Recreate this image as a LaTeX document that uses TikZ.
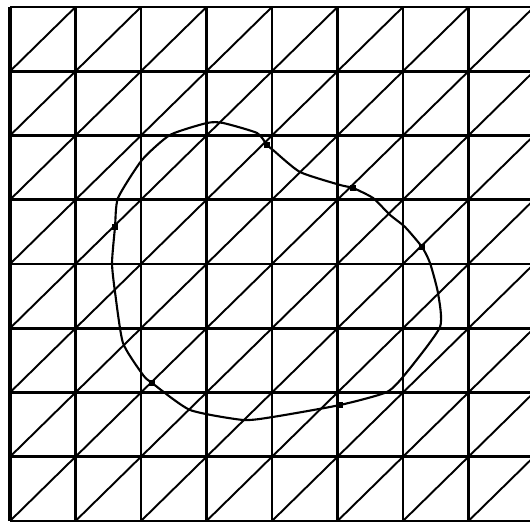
\documentclass[tikz,border=0pt]{standalone}
\usepackage{amsmath, amssymb}
\usepackage{tikz}

\tikzset{
  gridline/.style={line width=1.5pt},
  diagline/.style={line width=1.1pt},
  boundary/.style={line width=1.2pt, line join=round},
  cross/.style={fill=black}
}

\begin{document}
\begin{tikzpicture}[x=1.31cm, y=1.285cm]
        \useasboundingbox (-0.153,-0.062) rectangle (7.939,8.109);
        \clip (-0.153,-0.062) rectangle (7.939,8.109);
        % mesh
        \foreach \i in {0,...,8} {
            \draw[gridline] (\i,0) -- (\i,8);
            \draw[gridline] (0,\i) -- (8,\i);
        }
        \foreach \i in {0,...,7} {
            \foreach \j in {0,...,7} {
                \draw[diagline] (\i,\j) -- ++(1,1);
            }
        }
        \draw[line width=2pt] (0,0) -- (0,8);
        % interface
        \draw[boundary] plot[smooth cycle, tension=0.35] coordinates {
            (2.015,5.619) (2.443,6.008) (3.008,6.195) (3.252,6.195)
            (3.771,6.039) (3.924,5.852) (4.015,5.774) (4.427,5.432)
            (5.038,5.230) (5.237,5.183) (5.542,5.027) (5.802,4.763)
            (6.031,4.576) (6.290,4.265) (6.412,4.016) (6.534,3.549)
            (6.565,3.019) (6.061,2.319) (5.756,2.008) (5.038,1.805)
            (4.015,1.619) (3.557,1.572) (2.748,1.728) (2.168,2.148)
            (2.031,2.272) (1.725,2.770) (1.603,3.564) (1.557,4.016)
            (1.603,4.576) (1.649,5.027)};
        \coordinate (P1) at (2.168,2.148);
        \coordinate (P2) at (1.603,4.576);
        \coordinate (P3) at (5.237,5.183);
        \coordinate (P4) at (6.290,4.265);
        \coordinate (P5) at (3.924,5.852);
        \coordinate (P6) at (5.038,1.805);
        \foreach \p in {P1,P2,P3,P4,P5,P6}
            \fill[cross] (\p) ++(-0.04,-0.04) rectangle ++(0.08,0.08);
    \end{tikzpicture}
\end{document}
